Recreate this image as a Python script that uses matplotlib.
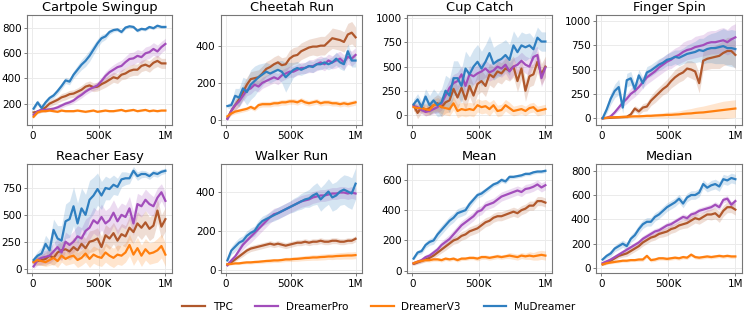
import numpy as np
import matplotlib
matplotlib.use("Agg")
import matplotlib.pyplot as plt
from matplotlib.ticker import FuncFormatter

# ---------------- data ----------------
steps = np.arange(10_000, 1_000_001, 30_000)  # 34 evaluation points

titles = ["Cartpole Swingup", "Cheetah Run", "Cup Catch", "Finger Spin",
          "Reacher Easy", "Walker Run", "Mean", "Median"]
methods = ["TPC", "DreamerPro", "DreamerV3", "MuDreamer"]
colors = ["#b0582c", "#a24dbb", "#ff7f0e", "#2f7fc0"]

# Cartpole Swingup
cart_tpc = [130, 135, 150, 170, 200, 215, 230, 250, 260, 275, 280, 295, 310, 335, 345, 330, 335, 355, 370, 390, 410, 400, 430, 440, 460, 470, 470, 500, 510, 495, 525, 540, 520, 520]
cart_pro = [110, 140, 150, 150, 155, 160, 170, 185, 200, 210, 225, 250, 270, 295, 315, 330, 345, 380, 420, 450, 470, 490, 500, 530, 555, 560, 580, 570, 600, 610, 635, 615, 650, 675]
cart_v3 = [95, 130, 140, 140, 145, 140, 135, 145, 140, 140, 140, 145, 140, 135, 140, 145, 135, 140, 145, 140, 140, 145, 150, 140, 145, 150, 140, 145, 150, 140, 145, 140, 145, 145]
cart_mu = [160, 210, 165, 210, 245, 265, 300, 340, 385, 375, 430, 470, 510, 540, 580, 630, 680, 720, 735, 770, 785, 790, 770, 805, 815, 810, 780, 795, 790, 810, 800, 820, 810, 810]
cart_tpc_sd = [15, 15, 20, 20, 25, 25, 25, 30, 30, 30, 30, 30, 35, 35, 35, 35, 35, 40, 40, 40, 40, 40, 40, 45, 45, 45, 45, 45, 45, 45, 45, 45, 40, 40]
cart_pro_sd = [10, 10, 15, 15, 15, 15, 20, 20, 20, 20, 20, 25, 25, 25, 25, 25, 30, 30, 35, 35, 40, 40, 45, 45, 50, 50, 50, 50, 50, 50, 50, 50, 45, 45]
cart_v3_sd = [8, 8, 8, 8, 8, 8, 8, 8, 8, 8, 8, 8, 8, 8, 8, 8, 8, 8, 8, 8, 8, 8, 8, 8, 8, 8, 8, 8, 8, 8, 8, 8, 8, 8]
cart_mu_sd = [20, 20, 20, 20, 20, 20, 25, 25, 25, 25, 30, 35, 40, 45, 45, 40, 35, 30, 25, 20, 15, 15, 15, 12, 12, 12, 12, 12, 12, 12, 12, 12, 12, 12]

# Cheetah Run
chee_tpc = [10, 50, 80, 110, 150, 190, 220, 225, 230, 250, 275, 285, 300, 310, 295, 300, 330, 345, 350, 370, 380, 390, 395, 395, 400, 400, 420, 440, 435, 430, 420, 460, 470, 445]
chee_pro = [5, 50, 80, 100, 130, 160, 170, 190, 180, 200, 210, 220, 230, 220, 240, 250, 260, 260, 270, 280, 280, 290, 290, 300, 310, 300, 320, 310, 320, 330, 310, 340, 330, 350]
chee_v3 = [20, 35, 45, 50, 55, 60, 70, 60, 80, 85, 85, 85, 90, 90, 95, 95, 100, 100, 95, 105, 95, 90, 95, 100, 90, 95, 95, 90, 90, 85, 90, 85, 90, 95]
chee_mu = [75, 80, 130, 120, 170, 150, 190, 210, 230, 245, 260, 250, 260, 270, 260, 230, 250, 270, 280, 270, 280, 290, 285, 300, 300, 310, 300, 310, 330, 310, 300, 370, 320, 320]
chee_tpc_sd = [10, 20, 30, 35, 40, 40, 40, 40, 40, 40, 40, 40, 40, 40, 40, 40, 45, 45, 45, 45, 45, 45, 45, 50, 50, 50, 50, 55, 55, 55, 55, 60, 60, 55]
chee_pro_sd = [5, 20, 25, 30, 30, 30, 30, 30, 30, 30, 30, 30, 30, 30, 30, 30, 30, 30, 30, 30, 30, 35, 35, 35, 35, 35, 35, 35, 40, 40, 40, 40, 40, 40]
chee_v3_sd = [8, 10, 12, 12, 12, 12, 12, 12, 15, 15, 15, 15, 15, 15, 15, 15, 15, 15, 15, 15, 15, 15, 15, 15, 15, 15, 15, 15, 15, 15, 15, 15, 15, 15]
chee_mu_sd = [10, 20, 40, 50, 60, 70, 80, 80, 70, 60, 50, 50, 50, 50, 60, 80, 60, 40, 35, 30, 30, 30, 30, 30, 30, 30, 30, 30, 35, 35, 35, 40, 35, 35]

# Cup Catch
cup_tpc = [100, 20, 80, 50, 70, 100, 120, 80, 130, 150, 270, 180, 280, 160, 300, 200, 320, 350, 300, 420, 390, 450, 430, 480, 460, 500, 350, 480, 250, 400, 420, 550, 420, 500]
cup_pro = [90, 80, 50, 30, 40, 60, 80, 120, 200, 280, 330, 350, 420, 300, 420, 400, 430, 450, 480, 440, 460, 500, 480, 520, 450, 500, 520, 560, 520, 500, 600, 620, 380, 490]
cup_v3 = [80, 70, 70, 60, 50, 100, 110, 80, 70, 60, 120, 40, 60, 50, 60, 50, 100, 80, 90, 60, 100, 40, 50, 100, 70, 40, 50, 60, 40, 70, 80, 40, 50, 60]
cup_mu = [110, 160, 80, 190, 100, 150, 100, 130, 250, 200, 380, 380, 300, 480, 420, 500, 550, 480, 550, 640, 530, 560, 580, 620, 570, 720, 650, 720, 700, 720, 680, 800, 760, 760]
cup_tpc_sd = [50, 60, 60, 60, 70, 80, 90, 100, 110, 120, 120, 120, 120, 110, 110, 110, 110, 110, 110, 110, 110, 110, 110, 110, 110, 110, 110, 110, 110, 110, 110, 110, 110, 110]
cup_pro_sd = [40, 40, 40, 40, 40, 50, 60, 70, 80, 90, 90, 90, 90, 90, 90, 90, 90, 90, 90, 90, 90, 90, 90, 90, 90, 90, 90, 90, 90, 90, 90, 90, 90, 90]
cup_v3_sd = [40, 40, 40, 40, 50, 60, 70, 70, 70, 70, 70, 70, 70, 70, 70, 70, 70, 70, 70, 70, 60, 60, 60, 60, 60, 50, 50, 50, 50, 50, 50, 50, 50, 50]
cup_mu_sd = [50, 60, 60, 80, 100, 120, 120, 140, 160, 180, 180, 180, 180, 180, 180, 180, 180, 180, 180, 180, 170, 170, 170, 160, 160, 150, 150, 140, 140, 130, 120, 110, 100, 100]

# Finger Spin
fing_tpc = [0, 2, 5, 8, 10, 12, 15, 40, 100, 70, 110, 120, 180, 220, 260, 300, 330, 380, 420, 450, 470, 510, 500, 480, 360, 590, 610, 620, 630, 640, 670, 690, 690, 650]
fing_pro = [0, 5, 20, 60, 110, 160, 200, 250, 280, 320, 370, 420, 450, 480, 520, 550, 580, 600, 630, 650, 680, 700, 710, 730, 740, 750, 770, 780, 780, 790, 800, 780, 810, 830]
fing_v3 = [0, 5, 10, 10, 12, 15, 15, 18, 20, 20, 22, 25, 25, 28, 30, 32, 35, 35, 38, 40, 45, 48, 50, 55, 58, 60, 65, 70, 75, 80, 85, 90, 95, 100]
fing_mu = [0, 90, 200, 280, 320, 110, 390, 410, 300, 440, 360, 470, 490, 520, 550, 570, 600, 610, 630, 620, 640, 660, 670, 680, 700, 690, 710, 720, 720, 730, 740, 720, 720, 710]
fing_tpc_sd = [2, 3, 5, 5, 8, 10, 15, 20, 30, 35, 40, 45, 50, 60, 60, 60, 70, 70, 80, 80, 80, 80, 90, 90, 100, 100, 110, 110, 120, 130, 130, 140, 140, 140]
fing_pro_sd = [2, 5, 10, 20, 30, 40, 50, 60, 60, 60, 60, 70, 70, 70, 80, 80, 80, 90, 90, 90, 100, 100, 100, 110, 110, 110, 120, 120, 120, 130, 130, 130, 140, 140]
fing_v3_sd = [2, 3, 5, 5, 8, 10, 10, 12, 12, 15, 15, 18, 20, 20, 22, 25, 28, 30, 32, 35, 40, 45, 50, 55, 60, 65, 70, 75, 80, 85, 90, 90, 90, 90]
fing_mu_sd = [5, 40, 60, 70, 80, 60, 70, 70, 60, 60, 60, 60, 60, 60, 60, 60, 60, 70, 70, 80, 80, 90, 100, 110, 120, 130, 140, 150, 160, 170, 180, 180, 190, 190]

# Reacher Easy
reac_tpc = [60, 70, 80, 90, 120, 100, 150, 170, 180, 160, 200, 170, 230, 190, 250, 260, 280, 200, 310, 280, 330, 260, 320, 300, 380, 340, 420, 380, 430, 370, 400, 540, 390, 460]
reac_pro = [20, 80, 100, 110, 120, 160, 200, 150, 250, 220, 250, 300, 280, 350, 380, 450, 420, 480, 420, 450, 520, 440, 500, 480, 560, 420, 600, 580, 640, 600, 580, 660, 710, 630]
reac_v3 = [60, 80, 70, 60, 80, 100, 70, 120, 90, 110, 120, 80, 100, 140, 90, 130, 110, 100, 150, 120, 100, 130, 120, 150, 220, 130, 190, 120, 180, 140, 150, 170, 210, 130]
reac_mu = [80, 120, 140, 230, 170, 360, 280, 260, 440, 460, 580, 420, 560, 500, 640, 680, 740, 680, 750, 740, 780, 760, 830, 840, 840, 910, 860, 880, 880, 860, 890, 880, 900, 910]
reac_tpc_sd = [30, 40, 50, 60, 70, 70, 80, 80, 80, 80, 90, 90, 90, 90, 100, 100, 100, 100, 100, 100, 100, 100, 100, 100, 110, 110, 110, 110, 110, 110, 110, 110, 110, 110]
reac_pro_sd = [20, 50, 60, 60, 70, 80, 80, 80, 90, 90, 100, 100, 100, 110, 110, 120, 120, 120, 120, 120, 120, 120, 110, 110, 110, 110, 100, 100, 100, 100, 90, 90, 80, 80]
reac_v3_sd = [30, 40, 40, 40, 50, 60, 60, 60, 60, 70, 70, 70, 70, 80, 80, 80, 80, 80, 90, 90, 90, 90, 90, 90, 100, 100, 100, 100, 100, 100, 100, 110, 110, 110]
reac_mu_sd = [30, 40, 60, 80, 90, 100, 120, 140, 160, 170, 180, 190, 190, 190, 180, 170, 150, 130, 110, 100, 90, 80, 70, 60, 50, 40, 40, 35, 30, 30, 30, 30, 25, 25]

# Walker Run
walk_tpc = [30, 40, 55, 70, 85, 100, 110, 115, 120, 125, 130, 135, 130, 135, 130, 125, 130, 135, 140, 140, 145, 140, 145, 145, 150, 145, 145, 150, 150, 145, 145, 150, 150, 160]
walk_pro = [25, 50, 70, 100, 130, 150, 170, 190, 210, 230, 250, 270, 285, 290, 300, 310, 320, 330, 340, 350, 355, 360, 370, 375, 380, 380, 385, 390, 390, 395, 395, 390, 395, 390]
walk_v3 = [30, 32, 35, 35, 38, 40, 40, 42, 43, 45, 47, 48, 50, 50, 52, 55, 55, 57, 58, 60, 62, 63, 65, 65, 67, 68, 70, 70, 72, 73, 74, 75, 75, 77]
walk_mu = [50, 100, 120, 140, 150, 175, 190, 200, 230, 250, 260, 270, 280, 290, 300, 310, 320, 330, 340, 350, 360, 365, 380, 390, 360, 380, 400, 370, 380, 400, 410, 400, 390, 440]
walk_tpc_sd = [5, 8, 10, 12, 15, 15, 15, 15, 15, 15, 15, 15, 15, 15, 15, 15, 15, 15, 15, 15, 15, 15, 15, 15, 15, 15, 15, 15, 15, 15, 15, 15, 15, 15]
walk_pro_sd = [5, 10, 15, 20, 25, 25, 30, 30, 30, 30, 30, 30, 30, 30, 30, 30, 30, 30, 30, 30, 30, 30, 30, 30, 30, 30, 30, 30, 30, 30, 30, 30, 30, 30]
walk_v3_sd = [5, 5, 6, 6, 7, 7, 8, 8, 8, 9, 9, 10, 10, 10, 10, 11, 11, 12, 12, 12, 13, 13, 14, 14, 15, 15, 15, 16, 16, 17, 17, 18, 18, 18]
walk_mu_sd = [10, 20, 25, 25, 25, 25, 25, 25, 25, 25, 25, 25, 30, 30, 30, 30, 30, 35, 35, 40, 40, 45, 50, 55, 60, 60, 65, 70, 70, 70, 75, 80, 80, 80]

# Mean
mean_tpc = [45, 55, 65, 75, 85, 100, 120, 140, 160, 180, 200, 210, 230, 240, 260, 270, 280, 300, 320, 330, 350, 360, 360, 370, 380, 390, 380, 400, 410, 430, 430, 460, 460, 450]
mean_pro = [50, 60, 70, 90, 100, 120, 140, 170, 190, 210, 240, 270, 300, 320, 340, 360, 390, 400, 430, 440, 450, 470, 490, 500, 510, 520, 530, 520, 540, 545, 555, 570, 550, 565]
mean_v3 = [50, 60, 65, 70, 70, 75, 75, 70, 80, 75, 80, 70, 80, 80, 85, 85, 80, 90, 90, 85, 90, 95, 90, 95, 100, 95, 90, 100, 95, 100, 95, 100, 105, 100]
mean_mu = [80, 120, 130, 170, 190, 200, 240, 270, 300, 330, 350, 380, 390, 400, 440, 470, 500, 510, 530, 550, 570, 580, 600, 590, 620, 620, 625, 630, 640, 640, 650, 655, 655, 660]
mean_tpc_sd = [10, 12, 15, 15, 18, 20, 20, 22, 25, 25, 25, 28, 28, 30, 30, 30, 30, 30, 30, 30, 30, 30, 30, 30, 30, 30, 30, 30, 30, 30, 30, 30, 30, 30]
mean_pro_sd = [10, 12, 15, 15, 18, 20, 22, 25, 28, 30, 30, 30, 30, 30, 30, 30, 30, 30, 30, 30, 30, 30, 30, 30, 30, 30, 30, 30, 30, 30, 30, 30, 30, 30]
mean_v3_sd = [8, 10, 10, 10, 12, 12, 12, 12, 12, 12, 12, 12, 12, 12, 12, 12, 15, 15, 15, 15, 15, 15, 15, 15, 20, 20, 20, 20, 20, 25, 25, 30, 30, 30]
mean_mu_sd = [10, 15, 18, 20, 22, 25, 28, 30, 30, 30, 30, 30, 30, 28, 25, 22, 20, 20, 18, 18, 15, 15, 15, 15, 15, 12, 12, 12, 12, 12, 12, 12, 12, 12]

# Median
med_tpc = [30, 45, 60, 80, 100, 110, 120, 140, 160, 180, 210, 230, 250, 260, 280, 290, 300, 320, 330, 350, 360, 370, 390, 410, 400, 420, 440, 440, 450, 420, 470, 500, 500, 480]
med_pro = [40, 55, 70, 90, 110, 130, 150, 170, 190, 210, 240, 260, 280, 300, 310, 330, 350, 360, 380, 400, 420, 410, 440, 450, 470, 480, 490, 500, 520, 500, 560, 570, 520, 550]
med_v3 = [30, 40, 45, 50, 55, 60, 60, 65, 65, 70, 70, 100, 65, 70, 80, 80, 75, 80, 85, 80, 90, 85, 110, 90, 85, 90, 95, 90, 95, 100, 95, 100, 95, 95]
med_mu = [70, 100, 120, 160, 180, 200, 180, 240, 270, 320, 360, 380, 380, 420, 440, 470, 500, 520, 540, 570, 530, 580, 600, 600, 620, 690, 660, 680, 690, 670, 730, 720, 740, 730]
med_tpc_sd = [10, 15, 15, 20, 20, 20, 25, 25, 25, 25, 30, 30, 30, 30, 30, 35, 35, 35, 35, 35, 35, 40, 40, 40, 40, 40, 40, 45, 45, 45, 45, 45, 45, 45]
med_pro_sd = [10, 12, 15, 15, 18, 20, 20, 20, 22, 22, 25, 25, 25, 25, 25, 25, 25, 25, 25, 25, 25, 25, 25, 25, 25, 25, 25, 25, 25, 25, 25, 25, 25, 25]
med_v3_sd = [8, 10, 10, 10, 12, 12, 12, 12, 12, 15, 15, 15, 15, 15, 15, 15, 15, 15, 15, 15, 15, 15, 15, 15, 15, 15, 15, 15, 15, 15, 15, 15, 15, 15]
med_mu_sd = [15, 20, 25, 25, 30, 30, 30, 30, 35, 35, 35, 35, 35, 35, 35, 35, 35, 35, 35, 35, 35, 35, 35, 35, 35, 35, 35, 40, 40, 40, 40, 40, 40, 40]

panels = [
    ([cart_tpc, cart_pro, cart_v3, cart_mu], [cart_tpc_sd, cart_pro_sd, cart_v3_sd, cart_mu_sd]),
    ([chee_tpc, chee_pro, chee_v3, chee_mu], [chee_tpc_sd, chee_pro_sd, chee_v3_sd, chee_mu_sd]),
    ([cup_tpc, cup_pro, cup_v3, cup_mu], [cup_tpc_sd, cup_pro_sd, cup_v3_sd, cup_mu_sd]),
    ([fing_tpc, fing_pro, fing_v3, fing_mu], [fing_tpc_sd, fing_pro_sd, fing_v3_sd, fing_mu_sd]),
    ([reac_tpc, reac_pro, reac_v3, reac_mu], [reac_tpc_sd, reac_pro_sd, reac_v3_sd, reac_mu_sd]),
    ([walk_tpc, walk_pro, walk_v3, walk_mu], [walk_tpc_sd, walk_pro_sd, walk_v3_sd, walk_mu_sd]),
    ([mean_tpc, mean_pro, mean_v3, mean_mu], [mean_tpc_sd, mean_pro_sd, mean_v3_sd, mean_mu_sd]),
    ([med_tpc, med_pro, med_v3, med_mu], [med_tpc_sd, med_pro_sd, med_v3_sd, med_mu_sd]),
]

ylims = [(30, 905), (-27, 565), (-105, 1035), (-69, 1059),
         (-41, 973), (-14, 540), (-15, 705), (-41, 855)]
yticks = [[200, 400, 600, 800], [0, 200, 400], [0, 250, 500, 750, 1000],
          [0, 250, 500, 750, 1000], [0, 250, 500, 750], [0, 200, 400],
          [0, 200, 400, 600], [0, 200, 400, 600, 800]]

# ---------------- layout ----------------
W, H = 747, 321
fig = plt.figure(figsize=(W / 100, H / 100), dpi=100)
col_px = [(27, 172), (221, 362), (407, 552), (596, 742)]
row_px = [(15, 125), (164, 273)]


def fmt_x(v, _):
    if v == 0:
        return "0"
    if v >= 1_000_000:
        return f"{v/1_000_000:g}M"
    return f"{v/1000:g}K"


handles = []
for i, (series, sds) in enumerate(panels):
    r, c = divmod(i, 4)
    x0, x1 = col_px[c]
    yt, yb = row_px[r]
    ax = fig.add_axes([x0 / W, 1 - yb / H, (x1 - x0) / W, (yb - yt) / H])
    for k, (vals, sd) in enumerate(zip(series, sds)):
        v = np.array(vals, float)
        s = np.array(sd, float)
        ax.fill_between(steps, v - s, v + s, color=colors[k], alpha=0.2, lw=0)
        ln, = ax.plot(steps, v, color=colors[k], lw=1.6, label=methods[k])
        if i == 0:
            handles.append(ln)
    ax.set_xlim(-39_500, 1_049_500)
    ax.set_ylim(*ylims[i])
    ax.set_xticks([0, 500_000, 1_000_000])
    ax.xaxis.set_major_formatter(FuncFormatter(fmt_x))
    ax.set_yticks(yticks[i])
    ax.tick_params(labelsize=7.5, length=2.5, width=0.6, color="#666666", pad=1.5)
    ax.grid(True, color="#ebebeb", lw=0.7)
    ax.set_axisbelow(True)
    for sp in ax.spines.values():
        sp.set_color("#777777")
        sp.set_linewidth(0.8)
    ax.set_title(titles[i], fontsize=9.4, pad=3)

fig.legend(handles, methods, loc="center", bbox_to_anchor=(0.507, 0.044),
           ncol=4, frameon=False, fontsize=7.5, handlelength=2.2,
           handletextpad=0.7, columnspacing=2.2)

fig.savefig("out.png", dpi=100)
